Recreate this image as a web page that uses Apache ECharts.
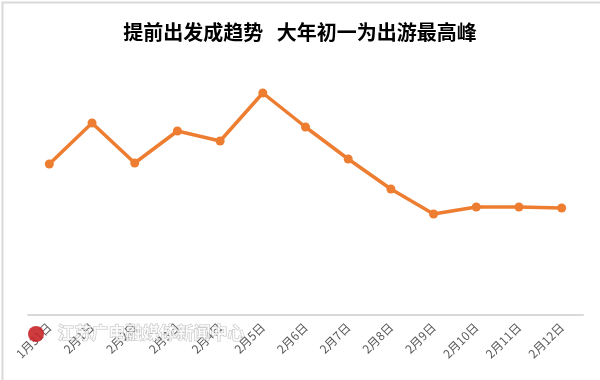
<!DOCTYPE html>
<html><head><meta charset="utf-8">
<script src="https://cdn.jsdelivr.net/npm/echarts@6/dist/echarts.min.js"></script>
<style>html,body{margin:0;padding:0;background:#fff}#c{width:600px;height:380px}</style>
</head><body><div id="c"></div>
<script>
const titleText = '提前出发成趋势   大年初一为出游最高峰';
const categories = ['1月31日','2月1日','2月2日','2月3日','2月4日','2月5日','2月6日','2月7日','2月8日','2月9日','2月10日','2月11日','2月12日'];
const values = [151, 192, 152, 184, 174, 222, 188, 156, 126, 101, 108, 108, 107];
const watermark = '江苏广电融媒体新闻中心';

const chart = echarts.init(document.getElementById('c'), null, {renderer:'canvas'});
chart.setOption({
  backgroundColor:'#fff',
  animation:false,
  title:{text:titleText,left:'center',top:17,textStyle:{fontFamily:'Noto Sans CJK SC',fontWeight:'bold',fontSize:20,color:'#000'}},
  grid:{left:28,right:17,top:60,bottom:65},
  xAxis:{type:'category',data:categories,boundaryGap:true,
    axisLine:{lineStyle:{color:'#d9d9d9',width:2}},axisTick:{show:false},
    axisLabel:{rotate:45,fontSize:12,color:'#595959',fontFamily:'Noto Sans CJK SC',margin:10,interval:0}},
  yAxis:{type:'value',min:0,max:255,show:false,splitLine:{show:false}},
  series:[{type:'line',data:values,symbol:'circle',symbolSize:9,
    lineStyle:{color:'#ED7D31',width:3.5},itemStyle:{color:'#ED7D31'}}],
  graphic:[
    {type:'rect',left:0,top:0,shape:{width:599,height:379},style:{fill:'none',stroke:'#d9d9d9',lineWidth:2},silent:true,z:100},
    {type:'text',left:57,top:324,style:{text:watermark,font:'bold 17px "Noto Sans CJK SC"',fill:'rgba(255,255,255,0.75)',stroke:'rgba(150,150,150,0.6)',lineWidth:1},z:100},
    {type:'circle',left:28,top:326,shape:{r:8},style:{fill:'#c8262a',opacity:0.9},z:100}
  ]
});
</script></body></html>
